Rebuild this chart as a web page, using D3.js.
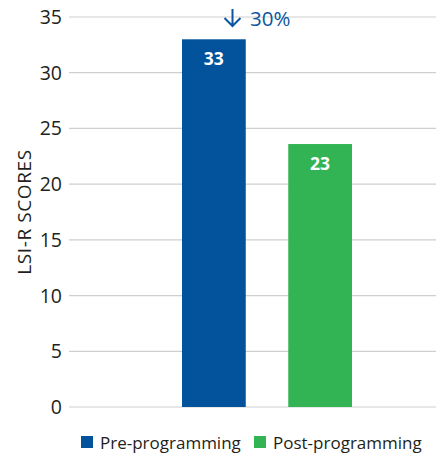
<!DOCTYPE html>
<html>
<head>
<meta charset="utf-8">
<script src="https://cdn.jsdelivr.net/npm/d3@7"></script>
<style>
  body { margin: 0; background: #fff; }
  svg { display: block; font-family: "Open Sans", "Noto Sans", sans-serif; }
</style>
</head>
<body>
<svg width="436" height="455"></svg>
<script>
const categories = ["Pre-programming", "Post-programming"];
const scores = [33, 23.6];
const scoreLabels = ["33", "23"];
const yTicks = [0, 5, 10, 15, 20, 25, 30, 35];
const changeLabel = "30%";

const colors = ["#03539c", "#33b454"];

const svg = d3.select("svg");
const margin = {left: 69, right: 0, top: 17, bottom: 48};
const width = 436, height = 455;

const y = d3.scaleLinear().domain([0, 35]).range([height - margin.bottom, margin.top]);
const x = d3.scaleBand().domain(categories).range([182, 352]).paddingInner(0.4);

// gridlines
svg.append("g")
    .selectAll("line")
    .data(yTicks)
    .enter().append("line")
    .attr("x1", margin.left)
    .attr("x2", width - margin.right)
    .attr("y1", d => y(d))
    .attr("y2", d => y(d))
    .attr("stroke", "#cfcfcf")
    .attr("stroke-width", 1.2);

// tick labels
svg.append("g")
    .selectAll("text")
    .data(yTicks)
    .enter().append("text")
    .attr("x", 62)
    .attr("y", d => y(d))
    .attr("dy", "0.36em")
    .attr("text-anchor", "end")
    .attr("font-size", 19.5)
    .attr("fill", "#231f20")
    .text(d => d);

// bars
svg.append("g")
    .selectAll("rect")
    .data(scores)
    .enter().append("rect")
    .attr("x", (d, i) => x(categories[i]))
    .attr("width", x.bandwidth())
    .attr("y", d => y(d))
    .attr("height", d => y(0) - y(d))
    .attr("fill", (d, i) => colors[i]);

// value labels
svg.append("g")
    .selectAll("text")
    .data(scores)
    .enter().append("text")
    .attr("x", (d, i) => x(categories[i]) + x.bandwidth() / 2)
    .attr("y", d => y(d) + 26)
    .attr("text-anchor", "middle")
    .attr("font-size", 17.5)
    .attr("font-weight", "bold")
    .attr("fill", "#fff")
    .text((d, i) => scoreLabels[i]);

// change annotation: down arrow + label
const annColor = "#0b56a0";
const arrowX = 232.5;
svg.append("path")
    .attr("d", `M${arrowX},9 V26 M${arrowX - 8},18 L${arrowX},26 L${arrowX + 8},18`)
    .attr("fill", "none")
    .attr("stroke", annColor)
    .attr("stroke-width", 2);
svg.append("text")
    .attr("x", 250)
    .attr("y", 26)
    .attr("font-size", 20.5)
    .attr("fill", annColor)
    .text(changeLabel);

// y-axis title
svg.append("text")
    .attr("transform", `translate(31, ${y(17.5)}) rotate(-90)`)
    .attr("text-anchor", "middle")
    .attr("font-size", 19)
    .attr("letter-spacing", 0.6)
    .attr("fill", "#231f20")
    .text("LSI-R SCORES");

// legend
const legendX = [81, 254];
const legend = svg.append("g")
    .selectAll("g")
    .data(categories)
    .enter().append("g")
    .attr("transform", (d, i) => `translate(${legendX[i]}, 436)`);

legend.append("rect")
    .attr("width", 12)
    .attr("height", 12)
    .attr("fill", (d, i) => colors[i]);

legend.append("text")
    .attr("x", 19)
    .attr("y", 12.5)
    .attr("font-size", 17)
    .attr("fill", "#231f20")
    .text(d => d);
</script>
</body>
</html>
